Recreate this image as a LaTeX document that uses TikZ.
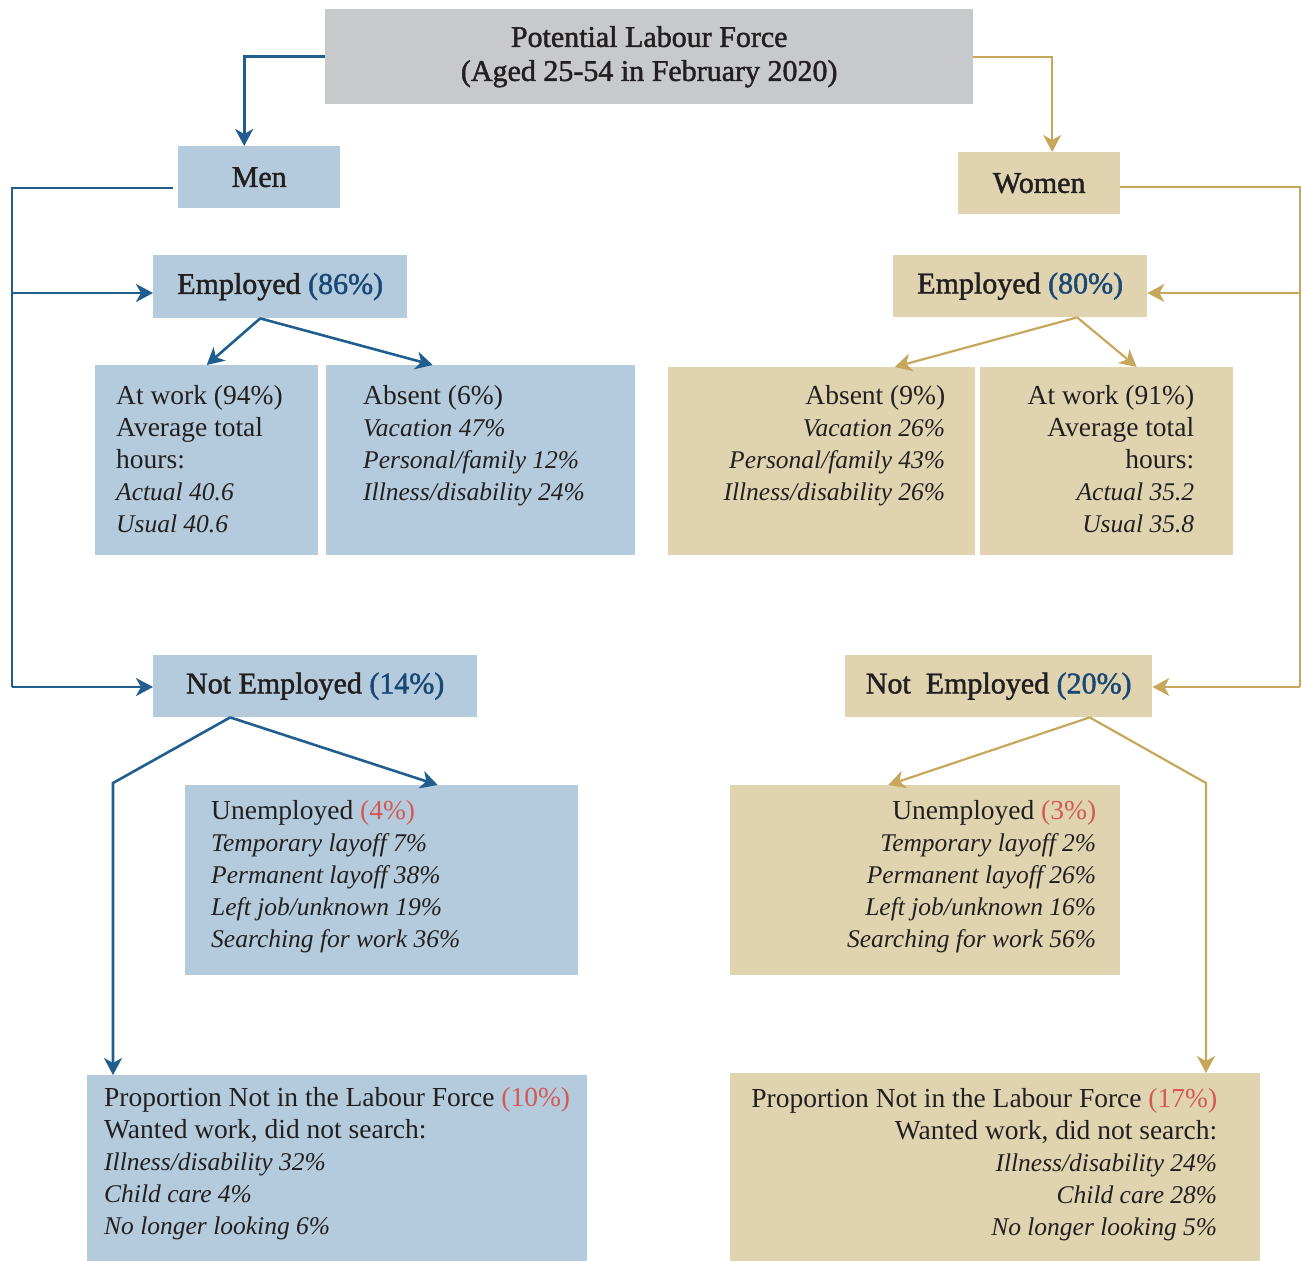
\documentclass[tikz,border=0pt]{standalone}
\usepackage{fontspec}
\setmainfont{Liberation Serif}
\newfontfamily\headfont{Liberation Serif}[FakeBold=1.5]
\usetikzlibrary{arrows.meta,positioning}

\definecolor{menfill}{RGB}{179,203,220}
\definecolor{womenfill}{RGB}{224,212,176}
\definecolor{topfill}{RGB}{200,201,203}
\definecolor{menline}{RGB}{31,94,142}
\definecolor{womenline}{RGB}{199,167,92}
\definecolor{pctblue}{RGB}{26,72,118}
\definecolor{pctred}{RGB}{212,88,84}
\definecolor{ink}{RGB}{35,31,32}

% italic detail lines are set a little smaller
\newcommand{\detail}[1]{{\fontsize{25.5}{32}\selectfont\itshape #1}}

\begin{document}
\begin{tikzpicture}[x=1pt,y=-1pt,>={Stealth[length=17pt,width=18pt,inset=5pt]},
    every node/.style={inner sep=0pt, text=ink},
    headbox/.style={anchor=north west, align=center,
                    font=\headfont\fontsize{30}{34}\selectfont},
    bodytext/.style={font=\fontsize{27.5}{32}\selectfont},
    leftbody/.style={bodytext, anchor=north west, align=left},
    rightbody/.style={bodytext, anchor=north east, align=right},
    menbox/.style={anchor=north west, fill=menfill},
    womenbox/.style={anchor=north west, fill=womenfill},
    menarrow/.style={draw=menline, line width=2.6pt},
    womenarrow/.style={draw=womenline, line width=2.2pt}]

  \useasboundingbox (0,0) rectangle (1302,1261);

  % headings
  \node[headbox, fill=topfill, minimum width=648pt, minimum height=95pt] (labour) at (325,9)
       {Potential Labour Force\\(Aged 25-54 in February 2020)};
  \node[menbox, headbox, minimum width=162pt, minimum height=62pt]   (men)   at (178,146) {Men};
  \node[womenbox, headbox, minimum width=162pt, minimum height=62pt] (women) at (958,152) {Women};
  \node[menbox, headbox, minimum width=254pt, minimum height=63pt]   (memp)  at (153,255)
       {Employed \textcolor{pctblue}{(86\%)}};
  \node[womenbox, headbox, minimum width=254pt, minimum height=62pt] (wemp)  at (893,255)
       {Employed \textcolor{pctblue}{(80\%)}};
  \node[menbox, headbox, minimum width=324pt, minimum height=62pt]   (mnot)  at (153,655)
       {Not Employed \textcolor{pctblue}{(14\%)}};
  \node[womenbox, headbox, minimum width=307pt, minimum height=62pt] (wnot)  at (845,655)
       {Not~~Employed \textcolor{pctblue}{(20\%)}};

  % detail boxes
  \node[menbox, minimum width=223pt, minimum height=190pt]   (mwork)   at (95,365)  {};
  \node[menbox, minimum width=309pt, minimum height=190pt]   (mabsent) at (326,365) {};
  \node[womenbox, minimum width=307pt, minimum height=188pt] (wabsent) at (668,367) {};
  \node[womenbox, minimum width=253pt, minimum height=188pt] (wwork)   at (980,367) {};
  \node[menbox, minimum width=393pt, minimum height=190pt]   (munemp)  at (185,785) {};
  \node[womenbox, minimum width=390pt, minimum height=190pt] (wunemp)  at (730,785) {};
  \node[menbox, minimum width=500pt, minimum height=186pt]   (mprop)   at (87,1075) {};
  \node[womenbox, minimum width=530pt, minimum height=188pt] (wprop)   at (730,1073) {};

  % texts of the detail boxes
  \node[leftbody] (mworkt) at ([shift={(21pt,-20pt)}]mwork.north west)
       {At work (94\%)\\Average total\\hours:\\\detail{Actual 40.6}\\\detail{Usual 40.6}};
  \node[leftbody] (mabsentt) at ([shift={(37pt,-20pt)}]mabsent.north west)
       {Absent (6\%)\\\detail{Vacation 47\%}\\\detail{Personal/family 12\%}\\\detail{Illness/disability 24\%}};
  \node[rightbody] (wabsentt) at ([shift={(-30pt,-18pt)}]wabsent.north east)
       {Absent (9\%)\\\detail{Vacation 26\%}\\\detail{Personal/family 43\%}\\\detail{Illness/disability 26\%}};
  \node[rightbody] (wworkt) at ([shift={(-39pt,-18pt)}]wwork.north east)
       {At work (91\%)\\Average total\\hours:\\\detail{Actual 35.2}\\\detail{Usual 35.8}};
  \node[leftbody] (munempt) at ([shift={(26pt,-15pt)}]munemp.north west)
       {Unemployed \textcolor{pctred}{(4\%)}\\\detail{Temporary layoff 7\%}\\\detail{Permanent layoff 38\%}\\
        \detail{Left job/unknown 19\%}\\\detail{Searching for work 36\%}};
  \node[rightbody] (wunempt) at ([shift={(-24pt,-15pt)}]wunemp.north east)
       {Unemployed \textcolor{pctred}{(3\%)}\\\detail{Temporary layoff 2\%}\\\detail{Permanent layoff 26\%}\\
        \detail{Left job/unknown 16\%}\\\detail{Searching for work 56\%}};
  \node[leftbody] (mpropt) at ([shift={(17pt,-12pt)}]mprop.north west)
       {Proportion Not in the Labour Force \textcolor{pctred}{(10\%)}\\Wanted work, did not search:\\
        \detail{Illness/disability 32\%}\\\detail{Child care 4\%}\\\detail{No longer looking 6\%}};
  \node[rightbody] (wpropt) at ([shift={(-43pt,-15pt)}]wprop.north east)
       {Proportion Not in the Labour Force \textcolor{pctred}{(17\%)}\\Wanted work, did not search:\\
        \detail{Illness/disability 24\%}\\\detail{Child care 28\%}\\\detail{No longer looking 5\%}};

  % rails and bends
  \coordinate (mtop) at (12,188);
  \coordinate (mmid) at (12,293);
  \coordinate (mbot) at (12,687);
  \coordinate (wtop) at (1300,187);
  \coordinate (wmid) at (1300,293);
  \coordinate (wbot) at (1300,687);
  \coordinate (mbend) at (113,783);
  \coordinate (wbend) at (1206,783);

  % men side
  \draw[menarrow,->] (labour.west) -| ([xshift=-15pt]men.north);
  \draw[menarrow] ([xshift=-5pt]men.west |- mtop) -- (mtop) -- (mbot);
  \draw[menarrow,->] (mmid) -- (mmid -| memp.west);
  \draw[menarrow,->] (mbot) -- (mbot -| mnot.west);
  \draw[menarrow,->] ([xshift=-20pt]memp.south) -- (mwork.north);
  \draw[menarrow,->] ([xshift=-20pt]memp.south) -- ([xshift=-48pt]mabsent.north);
  \draw[menarrow,->] ([xshift=-85pt]mnot.south) -- ([xshift=56pt]munemp.north);
  \draw[menarrow,->] ([xshift=-85pt]mnot.south) -- (mbend) -- (mbend |- mprop.north);

  % women side
  \draw[womenarrow,->] (labour.east) -| ([xshift=13pt]women.north);
  \draw[womenarrow] (women.east |- wtop) -- (wtop) -- (wbot);
  \draw[womenarrow,->] (wmid) -- (wmid -| wemp.east);
  \draw[womenarrow,->] (wbot) -- (wbot -| wnot.east);
  \draw[womenarrow,->] ([xshift=57pt]wemp.south) -- ([xshift=73pt]wabsent.north);
  \draw[womenarrow,->] ([xshift=57pt]wemp.south) -- ([xshift=30pt]wwork.north);
  \draw[womenarrow,->] ([xshift=91pt]wnot.south) -- ([xshift=-37pt]wunemp.north);
  \draw[womenarrow,->] ([xshift=91pt]wnot.south) -- (wbend) -- (wbend |- wprop.north);
\end{tikzpicture}
\end{document}
